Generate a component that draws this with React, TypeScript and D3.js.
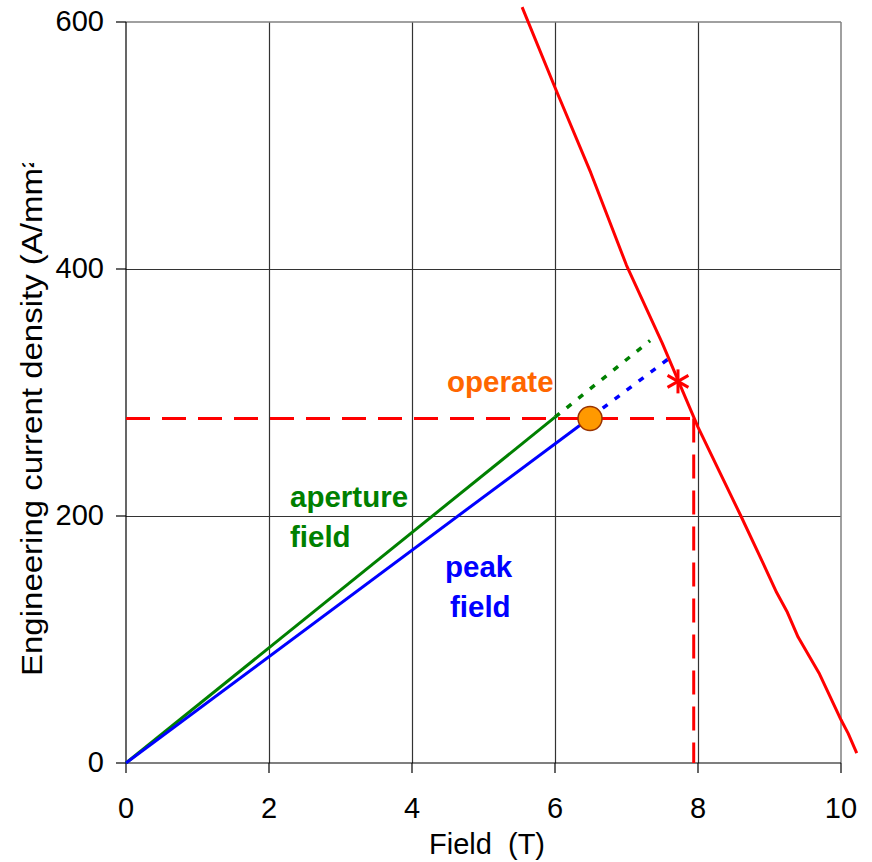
import React from "react";
import * as d3 from "d3";

const xTicks = [0, 2, 4, 6, 8, 10];
const yTicks = [0, 200, 400, 600];
const criticalCurve: [number, number][] = [
  [5.54, 612], [6.0, 547], [6.5, 478], [7.0, 403], [7.5, 340], [8.0, 272],
  [8.3, 236], [8.6, 200], [8.9, 163], [9.1, 138], [9.25, 122], [9.4, 102],
  [9.7, 72], [10.0, 35], [10.1, 24], [10.22, 8],
];
const apertureSolid: [number, number][] = [[0, 0], [6.0, 280]];
const apertureDotted: [number, number][] = [[6.0, 280], [7.33, 342]];
const peakSolid: [number, number][] = [[0, 0], [6.5, 280]];
const peakDotted: [number, number][] = [[6.5, 280], [7.58, 327]];
const operatePoint: [number, number] = [6.49, 279];
const starPoint: [number, number] = [7.72, 309];
const hLine: [number, number][] = [[0, 279], [7.94, 279]];
const vLine: [number, number][] = [[7.94, 279], [7.94, 0]];

const FONT = "'Liberation Sans', Arial, sans-serif";

export default function App() {
  const x = d3.scaleLinear().domain([0, 10]).range([126, 841]);
  const y = d3.scaleLinear().domain([0, 600]).range([763, 22]);
  const line = d3.line<[number, number]>().x((d) => x(d[0])).y((d) => y(d[1]));
  const [sx, sy] = [x(starPoint[0]), y(starPoint[1])];
  const r = 12;
  return (
    <svg width={872} height={862} style={{ position: "absolute", left: 0, top: 0, background: "#fff" }}>
      <defs>
        <clipPath id="ylab">
          <rect x={0} y={163} width={80} height={700} />
        </clipPath>
      </defs>
      {/* grid */}
      {xTicks.slice(1, -1).map((t) => (
        <line key={"gx" + t} x1={Math.round(x(t)) + 0.5} x2={Math.round(x(t)) + 0.5} y1={y(600)} y2={y(0)} stroke="#333" strokeWidth={1.2} />
      ))}
      {yTicks.slice(1, -1).map((t) => (
        <line key={"gy" + t} x1={x(0)} x2={x(10)} y1={Math.round(y(t)) + 0.5} y2={Math.round(y(t)) + 0.5} stroke="#333" strokeWidth={1.2} />
      ))}
      {/* border top/right */}
      <line x1={x(0)} x2={x(10)} y1={y(600)} y2={y(600)} stroke="#808080" strokeWidth={1.5} />
      <line x1={x(10)} x2={x(10)} y1={y(600)} y2={y(0)} stroke="#808080" strokeWidth={1.5} />
      {/* axes */}
      <line x1={x(0)} x2={x(0)} y1={y(600)} y2={y(0)} stroke="#000" strokeWidth={1.2} />
      <line x1={x(0)} x2={x(10)} y1={y(0)} y2={y(0)} stroke="#000" strokeWidth={1.2} />
      {xTicks.map((t) => (
        <g key={"xt" + t}>
          <line x1={x(t)} x2={x(t)} y1={y(0)} y2={y(0) + 10} stroke="#000" strokeWidth={1.2} />
          <text x={x(t)} y={y(0) + 55} textAnchor="middle" fontFamily={FONT} fontSize={29}>{t}</text>
        </g>
      ))}
      {yTicks.map((t) => (
        <g key={"yt" + t}>
          <line x1={x(0) - 10} x2={x(0)} y1={y(t)} y2={y(t)} stroke="#000" strokeWidth={1.2} />
          <text x={104} y={y(t) + 9} textAnchor="end" fontFamily={FONT} fontSize={29}>{t}</text>
        </g>
      ))}
      <text x={487} y={854} textAnchor="middle" fontFamily={FONT} fontSize={29} style={{ whiteSpace: "pre" }}>{"Field  (T)"}</text>
      <g clipPath="url(#ylab)">
        <text transform="translate(42,676) rotate(-90) scale(1,0.88)" fontFamily={FONT} fontSize={33}>Engineering current density (A/mm²)</text>
      </g>
      {/* dashed operating lines */}
      <path d={line(hLine) || ""} fill="none" stroke="#FF0000" strokeWidth={3} strokeDasharray="24 12" />
      <path d={line(vLine) || ""} fill="none" stroke="#FF0000" strokeWidth={3} strokeDasharray="24 12" />
      {/* load lines */}
      <path d={line(apertureSolid) || ""} fill="none" stroke="#008000" strokeWidth={3} />
      <path d={line(apertureDotted) || ""} fill="none" stroke="#008000" strokeWidth={3.5} strokeDasharray="6 9" />
      <path d={line(peakSolid) || ""} fill="none" stroke="#0000FF" strokeWidth={3} />
      <path d={line(peakDotted) || ""} fill="none" stroke="#0000FF" strokeWidth={3.5} strokeDasharray="6 9" />
      {/* critical curve */}
      <path d={line(criticalCurve) || ""} fill="none" stroke="#FF0000" strokeWidth={3} strokeLinejoin="round" />
      {/* star */}
      <g stroke="#FF0000" strokeWidth={3}>
        <line x1={sx} x2={sx} y1={sy - r} y2={sy + r} />
        <line x1={sx - r * 0.87} x2={sx + r * 0.87} y1={sy - r * 0.5} y2={sy + r * 0.5} />
        <line x1={sx - r * 0.87} x2={sx + r * 0.87} y1={sy + r * 0.5} y2={sy - r * 0.5} />
      </g>
      {/* operate point */}
      <circle cx={x(operatePoint[0])} cy={y(operatePoint[1])} r={12} fill="#FF9900" stroke="#993300" strokeWidth={1.5} />
      {/* labels */}
      <text x={447} y={392} fontFamily={FONT} fontSize={29.5} fontWeight="bold" fill="#FF6600">operate</text>
      <text x={290} y={507} fontFamily={FONT} fontSize={29.5} fontWeight="bold" fill="#008000">aperture</text>
      <text x={290} y={547} fontFamily={FONT} fontSize={29.5} fontWeight="bold" fill="#008000">field</text>
      <text x={445} y={577} fontFamily={FONT} fontSize={29.5} fontWeight="bold" fill="#0000FF">peak</text>
      <text x={450} y={617} fontFamily={FONT} fontSize={29.5} fontWeight="bold" fill="#0000FF">field</text>
    </svg>
  );
}
